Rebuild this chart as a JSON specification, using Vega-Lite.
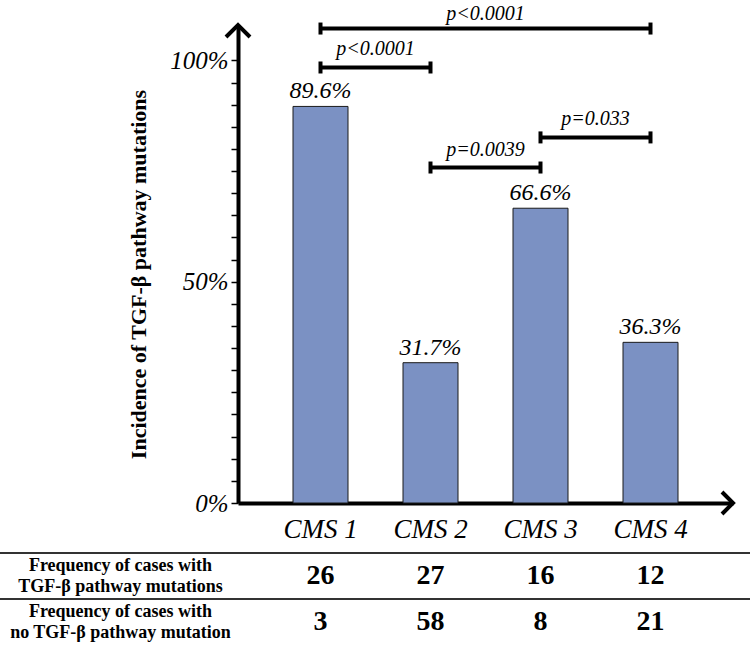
{
  "$schema": "https://vega.github.io/schema/vega-lite/v6.json",
  "width": 750,
  "height": 649,
  "autosize": {"type": "none"},
  "padding": 0,
  "background": "white",
  "config": {"view": {"stroke": null}, "font": "Liberation Serif", "axis": {"grid": false}},
  "datasets": {
    "bars": [
      {"cms": "CMS 1", "pct": 89.6, "lab": "89.6%"},
      {"cms": "CMS 2", "pct": 31.7, "lab": "31.7%"},
      {"cms": "CMS 3", "pct": 66.6, "lab": "66.6%"},
      {"cms": "CMS 4", "pct": 36.3, "lab": "36.3%"}
    ],
    "brackets": [
      {"from": "CMS 1", "to": "CMS 4", "labelAt": "CMS 1", "y": 107.2, "p": "p<0.0001", "span": "long"},
      {"from": "CMS 1", "to": "CMS 2", "labelAt": "CMS 1", "y": 98.4, "p": "p<0.0001", "span": "short"},
      {"from": "CMS 2", "to": "CMS 3", "labelAt": "CMS 2", "y": 75.8, "p": "p=0.0039", "span": "short"},
      {"from": "CMS 3", "to": "CMS 4", "labelAt": "CMS 3", "y": 82.6, "p": "p=0.033", "span": "short"}
    ],
    "arrows": [
      {"axis": "y", "cat": "CMS 1", "v": 108},
      {"axis": "x", "cat": "CMS 4", "v": 0}
    ],
    "cells": [
      {"row": "with", "cms": "CMS 1", "n": 26},
      {"row": "with", "cms": "CMS 2", "n": 27},
      {"row": "with", "cms": "CMS 3", "n": 16},
      {"row": "with", "cms": "CMS 4", "n": 12},
      {"row": "without", "cms": "CMS 1", "n": 3},
      {"row": "without", "cms": "CMS 2", "n": 58},
      {"row": "without", "cms": "CMS 3", "n": 8},
      {"row": "without", "cms": "CMS 4", "n": 21}
    ],
    "rowlabels": [
      {"row": "with", "label": "Frequency of cases with\nTGF-β pathway mutations"},
      {"row": "without", "label": "Frequency of cases with\nno TGF-β pathway mutation"}
    ]
  },
  "resolve": {"scale": {"y": "independent"}},
  "layer": [
    {
      "layer": [
        {
          "data": {"name": "bars"},
          "mark": {"type": "bar", "fill": "#7b91c3", "stroke": "#1a1a1a", "strokeWidth": 1},
          "encoding": {
            "x": {
              "field": "cms", "type": "nominal", "title": null,
              "scale": {"type": "band", "domain": ["CMS 1", "CMS 2", "CMS 3", "CMS 4"], "range": [238, 733], "paddingInner": 0.5, "paddingOuter": 0.5},
              "axis": {
                "orient": "bottom", "offset": -146, "domainColor": "black", "domainWidth": 4,
                "ticks": false, "tickSize": 0, "labelPadding": 13, "labelAngle": 0,
                "labelFont": "Liberation Serif", "labelFontStyle": "italic", "labelFontSize": 27, "labelColor": "black", "labelBaseline": "top"
              }
            },
            "y": {
              "field": "pct", "type": "quantitative",
              "title": "Incidence of TGF-β pathway mutations",
              "scale": {"domain": [0, 108], "range": [503, 25], "nice": false, "zero": true},
              "axis": {
                "orient": "left", "offset": -238,
                "values": [0, 5, 10, 15, 20, 25, 30, 35, 40, 45, 50, 55, 60, 65, 70, 75, 80, 85, 90, 95, 100],
                "tickCount": 40,
                "labelExpr": "datum.value % 50 == 0 ? datum.value + '%' : ''",
                "domainColor": "black", "domainWidth": 4,
                "tickColor": "black", "tickSize": 7, "tickWidth": 1.5,
                "labelPadding": 3, "labelFont": "Liberation Serif", "labelFontStyle": "italic", "labelFontSize": 25, "labelColor": "black",
                "title": "Incidence of TGF-β pathway mutations",
                "titleFont": "Liberation Serif", "titleFontWeight": "bold", "titleFontSize": 22, "titleColor": "black",
                "titleAngle": -90, "titleX": -100, "titleY": 274, "titleAlign": "center", "titleBaseline": "middle"
              }
            }
          }
        },
        {
          "data": {"name": "bars"},
          "mark": {"type": "text", "font": "Liberation Serif", "fontStyle": "italic", "fontSize": 24, "baseline": "alphabetic", "dy": -8, "color": "black"},
          "encoding": {
            "x": {"field": "cms", "type": "nominal", "title": null},
            "y": {"field": "pct", "type": "quantitative", "title": "Incidence of TGF-β pathway mutations"},
            "text": {"field": "lab"}
          }
        },
        {
          "data": {"name": "brackets"},
          "mark": {"type": "rule", "strokeWidth": 4, "color": "black"},
          "encoding": {
            "x": {"field": "from", "type": "nominal", "title": null},
            "x2": {"field": "to"},
            "y": {"field": "y", "type": "quantitative", "title": "Incidence of TGF-β pathway mutations"}
          }
        },
        {
          "data": {"name": "brackets"},
          "mark": {"type": "point", "shape": "M0,-1L0,1", "size": 144, "filled": false, "strokeWidth": 4, "color": "black", "opacity": 1},
          "encoding": {
            "x": {"field": "from", "type": "nominal", "title": null},
            "y": {"field": "y", "type": "quantitative", "title": "Incidence of TGF-β pathway mutations"}
          }
        },
        {
          "data": {"name": "brackets"},
          "mark": {"type": "point", "shape": "M0,-1L0,1", "size": 144, "filled": false, "strokeWidth": 4, "color": "black", "opacity": 1},
          "encoding": {
            "x": {"field": "to", "type": "nominal", "title": null},
            "y": {"field": "y", "type": "quantitative", "title": "Incidence of TGF-β pathway mutations"}
          }
        },
        {
          "data": {"name": "brackets"},
          "transform": [{"filter": "datum.span == 'short'"}],
          "mark": {"type": "text", "font": "Liberation Serif", "fontStyle": "italic", "fontSize": 20, "baseline": "alphabetic", "dy": -12, "color": "black"},
          "encoding": {
            "x": {"field": "labelAt", "type": "nominal", "title": null, "bandPosition": 1.5},
            "y": {"field": "y", "type": "quantitative", "title": "Incidence of TGF-β pathway mutations"},
            "text": {"field": "p"}
          }
        },
        {
          "data": {"name": "brackets"},
          "transform": [{"filter": "datum.span == 'long'"}],
          "mark": {"type": "text", "font": "Liberation Serif", "fontStyle": "italic", "fontSize": 20, "baseline": "alphabetic", "dy": -9, "color": "black"},
          "encoding": {
            "x": {"field": "labelAt", "type": "nominal", "title": null, "bandPosition": 3.5},
            "y": {"field": "y", "type": "quantitative", "title": "Incidence of TGF-β pathway mutations"},
            "text": {"field": "p"}
          }
        },
        {
          "data": {"name": "arrows"},
          "transform": [{"filter": "datum.axis == 'y'"}],
          "mark": {"type": "point", "shape": "M-1,1L0,0L1,1", "size": 576, "filled": false, "strokeWidth": 4, "color": "black", "opacity": 1},
          "encoding": {
            "x": {"field": "cat", "type": "nominal", "title": null, "bandPosition": -1},
            "y": {"field": "v", "type": "quantitative", "title": "Incidence of TGF-β pathway mutations"}
          }
        },
        {
          "data": {"name": "arrows"},
          "transform": [{"filter": "datum.axis == 'x'"}],
          "mark": {"type": "point", "shape": "M-1,-1L0,0L-1,1", "size": 484, "filled": false, "strokeWidth": 4, "color": "black", "opacity": 1},
          "encoding": {
            "x": {"field": "cat", "type": "nominal", "title": null, "bandPosition": 2},
            "y": {"field": "v", "type": "quantitative", "title": "Incidence of TGF-β pathway mutations"}
          }
        }
      ]
    },
    {
      "layer": [
        {
          "data": {"name": "rowlabels"},
          "mark": {"type": "rule", "strokeWidth": 2, "color": "#333333"},
          "encoding": {
            "y": {
              "field": "row", "type": "nominal", "bandPosition": 0, "axis": null,
              "scale": {"type": "band", "domain": ["with", "without"], "range": [553, 645], "paddingInner": 0, "paddingOuter": 0}
            }
          }
        },
        {
          "data": {"name": "cells"},
          "mark": {"type": "text", "font": "Liberation Serif", "fontWeight": "bold", "fontSize": 28, "baseline": "middle", "color": "black"},
          "encoding": {
            "x": {"field": "cms", "type": "nominal", "title": null},
            "y": {"field": "row", "type": "nominal", "axis": null},
            "text": {"field": "n"}
          }
        },
        {
          "data": {"name": "rowlabels"},
          "mark": {"type": "text", "font": "Liberation Serif", "fontWeight": "bold", "fontSize": 18, "baseline": "middle", "align": "center", "lineBreak": "\n", "lineHeight": 21, "dx": -200, "dy": -10, "color": "black"},
          "encoding": {
            "x": {"datum": "CMS 1", "type": "nominal"},
            "y": {"field": "row", "type": "nominal", "axis": null},
            "text": {"field": "label"}
          }
        }
      ]
    }
  ]
}
